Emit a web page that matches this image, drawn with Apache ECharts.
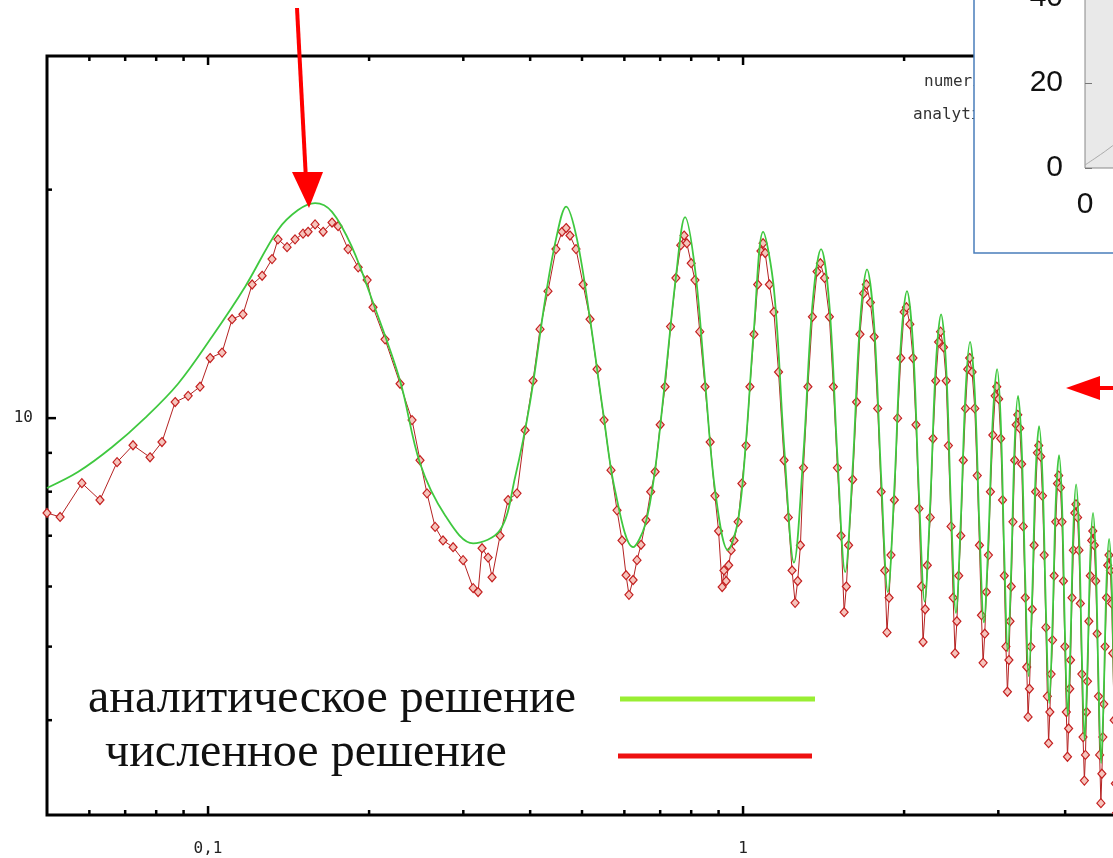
<!DOCTYPE html>
<html><head><meta charset="utf-8">
<script src="https://cdn.jsdelivr.net/npm/echarts@6/dist/echarts.min.js"></script>
<style>html,body{margin:0;padding:0;background:#fff;} #c{width:1113px;height:858px;}</style>
</head><body><div id="c"></div>
<script>
// ---------- data ----------
const analyticX = [0.050,0.0571,0.0662,0.0762,0.0879,0.1017,0.1173,0.1351,0.1473,0.1585,0.1705,0.1858,0.2034,0.2285,0.249,0.2773,0.313,0.3514,0.3749,0.3999,0.4265,0.447,0.467,0.4894,0.5176,0.5474,0.5762,0.623,0.656,0.6846,0.7147,0.7495,0.779,0.8134,0.849,0.8865,0.937,0.979,1.013,1.048,1.09,1.142,1.193,1.245,1.297,1.348,1.399,1.45,1.501,1.552,1.603,1.654,1.705,1.758,1.812,1.865,1.918,1.972,2.025,2.078,2.132,2.185,2.238,2.292,2.345,2.397,2.448,2.50,2.552,2.605,2.657,2.711,2.766,2.82,2.875,2.93,2.984,3.031,3.078,3.125,3.172,3.219,3.266,3.317,3.369,3.42,3.472,3.523,3.575,3.628,3.682,3.735,3.789,3.842,3.896,3.946,3.995,4.045,4.094,4.144,4.193,4.245,4.298,4.35,4.403,4.457,4.51,4.563,4.617,4.67,4.724,4.779,4.833,4.887,4.94,4.99];
const analyticY = [8.09,8.49,9.16,10.0,11.1,12.8,14.9,17.7,18.8,19.2,18.7,16.8,14.2,11.2,8.72,7.45,6.84,7.12,8.36,10.5,14.3,17.2,19.0,17.2,13.5,10.2,8.04,6.76,7.23,8.54,11.2,15.4,18.4,15.7,11.2,8.04,6.70,7.34,9.35,13.1,17.6,14.8,9.2,6.45,9.0,14.1,16.7,14.1,8.9,6.27,8.6,13.3,15.7,13.25,8.35,5.9,8.1,12.5,14.7,12.5,7.97,5.73,7.72,11.7,13.7,11.66,7.58,5.54,7.3,10.8,12.6,10.8,7.19,5.38,6.93,10.0,11.6,9.93,6.6,4.93,6.37,9.26,10.7,9.17,6.1,4.57,5.87,8.46,9.76,8.37,5.6,4.21,5.39,7.76,8.94,7.72,5.27,4.05,5.08,7.15,8.18,7.08,4.87,3.76,4.7,6.57,7.5,6.5,4.51,3.51,4.37,6.08,6.93,6.05,4.28,3.4];

const numericX = [0.050,0.0529,0.0581,0.0628,0.0676,0.0724,0.0779,0.082,0.0868,0.0918,0.0966,0.1009,0.1062,0.1109,0.1162,0.1209,0.1262,0.1317,0.1351,0.1405,0.1454,0.1505,0.1538,0.1585,0.1641,0.1705,0.175,0.1827,0.1908,0.1983,0.2034,0.2142,0.2285,0.2406,0.249,0.2566,0.2657,0.2749,0.2871,0.2997,0.313,0.3197,0.3252,0.3338,0.3395,0.3514,0.3637,0.378,0.3914,0.405,0.4174,0.4319,0.447,0.4588,0.467,0.4748,0.4873,0.5024,0.5176,0.5334,0.5497,0.5665,0.5814,0.594,0.6044,0.612,0.623,0.6335,0.6446,0.6586,
0.672,0.685,0.70,0.715,0.732,0.749,0.765,0.776,0.785,0.80,0.813,0.83,0.849,0.868,0.886,0.90,0.914,0.921,0.93,0.94,0.95,0.962,0.979,0.995,1.013,1.03,1.048,1.065,1.08,1.09,1.10,1.12,1.142,1.165,1.193,1.215,1.235,1.251,1.265,1.28,1.297,1.322,1.348,1.375,
1.395,1.42,1.45,1.475,1.501,1.525,1.545,1.56,1.575,1.603,1.63,1.654,1.68,1.70,1.73,1.758,1.785,1.812,1.84,1.858,1.875,1.89,1.918,1.945,1.972,2.0,2.02,2.05,2.078,2.105,2.132,2.155,2.17,2.19,2.21,2.238,2.265,2.292,2.32,2.34,2.37,2.397,2.42,2.448,2.47,2.49,2.51,2.53,2.552,2.58,2.605,2.63,2.652,2.68,2.711,2.74,2.766,2.79,2.81,2.83,2.85,2.875,2.9,2.93,2.96,2.98,3.005,3.031,3.055,3.078,3.1,3.12,3.14,3.155,3.172,3.195,3.219,3.24,3.262,3.29,3.317,3.34,3.369,3.39,3.41,3.43,3.45,3.472,3.5,3.523,3.55,3.57,3.6,3.628,3.655,3.682,3.705,3.725,3.745,3.765,3.789,3.815,3.842,3.87,3.89,3.92,3.946,3.97,3.995,4.02,4.04,4.06,4.08,4.094,4.12,4.144,4.17,4.19,4.22,4.245,4.27,4.298,4.32,4.345,4.365,4.385,4.403,4.43,4.457,4.485,4.505,4.535,4.563,4.59,4.617,4.64,4.665,4.685,4.705,4.724,4.75,4.779,4.805,4.83,4.86,4.887,4.91,4.94,4.965,4.99];
const numericY = [7.5,7.41,8.21,7.8,8.75,9.21,8.88,9.3,10.5,10.7,11.0,12.0,12.2,13.5,13.7,15.0,15.4,16.2,17.2,16.8,17.2,17.5,17.6,18.0,17.6,18.1,17.9,16.7,15.8,15.2,14.0,12.7,11.1,9.94,8.8,7.96,7.19,6.9,6.76,6.5,5.97,5.9,6.74,6.55,6.17,7.0,7.8,7.96,9.64,11.2,13.1,14.7,16.7,17.6,17.8,17.4,16.7,15.0,13.5,11.6,9.94,8.54,7.56,6.9,6.21,5.85,6.12,6.5,6.81,7.34,
8.0,8.5,9.8,11.0,13.2,15.3,16.9,17.4,17.0,16.0,15.2,13.0,11.0,9.3,7.9,7.1,5.99,6.3,6.1,6.4,6.7,6.9,7.3,8.2,9.2,11.0,12.9,15.0,16.6,17.0,16.5,15.0,13.8,11.5,8.8,7.4,6.3,5.71,6.1,6.8,8.6,11.0,13.6,15.6,
16.0,15.3,13.6,11.0,8.6,7.0,5.55,6.0,6.8,8.3,10.5,12.9,14.6,15.0,14.2,12.8,10.3,8.0,6.3,5.22,5.8,6.6,7.8,10.0,12.0,13.8,14.0,13.3,12.0,9.8,7.6,6.0,5.07,5.6,6.4,7.4,9.4,11.2,12.6,13.0,12.4,11.2,9.2,7.2,5.8,4.9,5.4,6.2,7.0,8.8,10.3,11.6,12.0,11.5,10.3,8.4,6.8,5.5,4.76,5.2,5.9,6.6,8.0,9.5,10.7,11.0,10.6,9.4,7.8,6.2,5.0,4.36,4.8,5.4,6.0,7.3,8.8,9.8,10.1,9.7,8.7,7.2,5.8,4.7,4.04,4.4,5.0,5.6,6.8,8.0,9.0,9.2,8.9,7.9,6.6,5.3,4.3,3.73,4.1,4.6,5.1,6.2,7.3,8.2,8.4,8.1,7.3,6.1,5.0,4.1,3.58,3.9,4.4,4.8,5.8,6.7,7.5,7.7,7.4,6.7,5.7,4.6,3.8,3.33,3.6,4.1,4.5,5.4,6.2,6.9,7.1,6.8,6.1,5.2,4.3,3.6,3.11,3.4,3.8,4.2,5.0,5.8,6.4,6.6,6.3,5.7,4.9,4.0,3.3,3.02];

const xMajorTicks = [0.1, 1];
const xMinorTicks = [0.06,0.07,0.08,0.09,0.2,0.3,0.4,0.5,0.6,0.7,0.8,0.9,2,3,4];
const yMajorTicks = [10];
const yMinorTicks = [4,5,6,7,8,9,20];

const insetX = [0, 2, 4, 6, 8];
const insetY = [0.7, 2.6, 4.6, 6.8, 9.0];

const legendLabels = ['аналитическое решение', 'численное решение'];
const keyLabels = ['numerical', 'analytical'];

// ---------- chart ----------
const chart = echarts.init(document.getElementById('c'), null, {renderer: 'canvas'});
const zip = (xs, ys) => xs.map((x, i) => [x, ys[i]]);
const monoFont = 'DejaVu Sans Mono';

const option = {
  animation: false,
  backgroundColor: '#ffffff',
  grid: [
    {left: 47, top: 56, width: 1070, height: 759, containLabel: false, outerBoundsMode: 'none',
     show: true, borderColor: '#000', borderWidth: 3, backgroundColor: 'transparent'},
    {left: 1085, top: -87, width: 600, height: 255, containLabel: false, outerBoundsMode: 'none',
     show: true, borderColor: '#888', borderWidth: 1, backgroundColor: '#e9e9e9', zlevel: 1, z: 1}
  ],
  xAxis: [
    {type: 'log', logBase: 10, gridIndex: 0, min: 0.05, max: 5,
     axisLine: {show: false}, axisTick: {show: false}, splitLine: {show: false}, minorTick: {show: false},
     axisLabel: {showMinLabel: false, showMaxLabel: false, fontFamily: monoFont, fontSize: 16, color: '#222', margin: 26,
       formatter: v => Math.abs(v - 0.1) < 1e-6 ? '0,1' : (Math.abs(v - 1) < 1e-6 ? '1' : String(v).replace('.', ','))}},
    {type: 'value', gridIndex: 1, min: 0, max: 100, interval: 20, zlevel: 1, z: 2,
     axisLine: {show: false}, axisTick: {show: false}, splitLine: {show: false},
     axisLabel: {fontFamily: 'Liberation Sans', fontSize: 30, color: '#111', margin: 22}}
  ],
  yAxis: [
    {type: 'log', logBase: 10, gridIndex: 0, min: 3, max: 30,
     axisLine: {show: false}, axisTick: {show: false}, splitLine: {show: false}, minorTick: {show: false},
     axisLabel: {showMinLabel: false, showMaxLabel: false, fontFamily: monoFont, fontSize: 16, color: '#222', margin: 14,
       formatter: v => String(Math.round(v))}},
    {type: 'value', gridIndex: 1, min: 0, max: 60, interval: 20, zlevel: 1, z: 2,
     axisLine: {show: false}, splitLine: {show: false},
     axisTick: {show: true, inside: true, length: 7, lineStyle: {color: '#777', width: 1}},
     axisLabel: {fontFamily: 'Liberation Sans', fontSize: 30, color: '#111', margin: 22}}
  ],
  series: [
    {name: 'численное решение', type: 'line', xAxisIndex: 0, yAxisIndex: 0, data: zip(numericX, numericY),
     symbol: 'diamond', symbolSize: [8, 9], showAllSymbol: true, z: 2,
     lineStyle: {color: '#b42222', width: 1},
     itemStyle: {color: '#f6c4bc', borderColor: '#c42020', borderWidth: 1.2}},
    {name: 'аналитическое решение', type: 'line', xAxisIndex: 0, yAxisIndex: 0, data: zip(analyticX, analyticY),
     smooth: 0.35, symbol: 'none', z: 3,
     lineStyle: {color: '#3fc83f', width: 1.8}},
    {name: 'inset', type: 'line', xAxisIndex: 1, yAxisIndex: 1, data: zip(insetX, insetY),
     smooth: true, symbol: 'none', zlevel: 1, z: 3,
     lineStyle: {color: '#aaaaaa', width: 1}}
  ]
};
chart.setOption(option);

// ---------- ticks (positions from the library's scales) + annotations ----------
const P = (x, y) => chart.convertToPixel({gridIndex: 0}, [x, y]);
const topY = P(1, 30)[1], botY = P(1, 3)[1], leftX = P(0.05, 10)[0];
const els = [];
const tick = (x1, y1, x2, y2, w) => els.push({type: 'line', z: 10, shape: {x1, y1, x2, y2}, style: {stroke: '#000', lineWidth: w}});
xMajorTicks.forEach(v => { const x = P(v, 10)[0]; tick(x, botY, x, botY - 9, 2.5); tick(x, topY, x, topY + 9, 2.5); });
xMinorTicks.forEach(v => { const x = P(v, 10)[0]; tick(x, botY, x, botY - 5, 2.5); tick(x, topY, x, topY + 5, 2.5); });
yMajorTicks.forEach(v => { const y = P(1, v)[1]; tick(leftX, y, leftX + 9, y, 2.5); });
yMinorTicks.forEach(v => { const y = P(1, v)[1]; tick(leftX, y, leftX + 5, y, 2.5); });

// gnuplot key text (partly hidden behind the inset)
els.push({type: 'text', x: 924, y: 82, z: 10, style: {text: keyLabels[0], font: '16px "DejaVu Sans Mono"', fill: '#333', verticalAlign: 'middle'}});
els.push({type: 'text', x: 913, y: 115, z: 10, style: {text: keyLabels[1], font: '16px "DejaVu Sans Mono"', fill: '#333', verticalAlign: 'middle'}});

// russian legend
els.push({type: 'text', x: 88, y: 675, z: 20, style: {text: legendLabels[0], font: '48px "Liberation Serif"', fill: '#111', verticalAlign: 'top'}});
els.push({type: 'text', x: 105, y: 729, z: 20, style: {text: legendLabels[1], font: '48px "Liberation Serif"', fill: '#111', verticalAlign: 'top'}});
els.push({type: 'line', z: 20, shape: {x1: 620, y1: 699, x2: 815, y2: 699}, style: {stroke: '#99ee33', lineWidth: 5}});
els.push({type: 'line', z: 20, shape: {x1: 618, y1: 756, x2: 812, y2: 756}, style: {stroke: '#ee1111', lineWidth: 5}});

// red arrows
els.push({type: 'line', z: 30, shape: {x1: 297, y1: 8, x2: 306, y2: 180}, style: {stroke: '#ff0000', lineWidth: 4}});
els.push({type: 'polygon', z: 30, shape: {points: [[292, 172], [323, 172], [309, 208]]}, style: {fill: '#ff0000'}});
els.push({type: 'line', z: 30, shape: {x1: 1096, y1: 388, x2: 1115, y2: 388}, style: {stroke: '#ff0000', lineWidth: 4}});
els.push({type: 'polygon', z: 30, shape: {points: [[1066, 388], [1100, 376], [1100, 400]]}, style: {fill: '#ff0000'}});

// inset frame
els.push({type: 'rect', zlevel: 1, z: 0, shape: {x: 974, y: -10, width: 200, height: 263}, style: {fill: '#ffffff', stroke: '#4a7ebb', lineWidth: 1.5}});

chart.setOption({graphic: {elements: els}});
</script>
</body></html>
